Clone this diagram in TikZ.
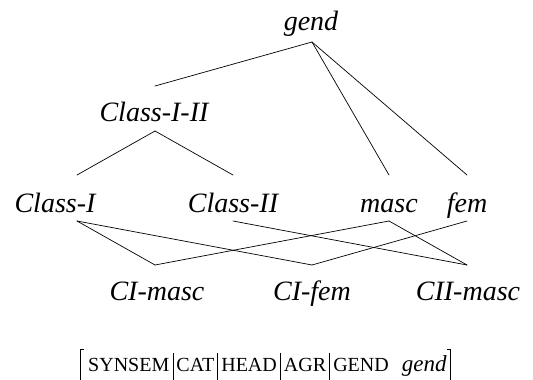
\documentclass[tikz,border=0pt]{standalone}
\usepackage{fontspec}
\setmainfont{Liberation Serif}
\usetikzlibrary{calc}
\newcommand{\avmbar}{\hspace{3.2pt}\rule[-10pt]{0.7pt}{28pt}\hspace{3.2pt}}
\begin{document}
\begin{tikzpicture}[x=1pt,y=-1pt,
  lbl/.style={anchor=base,inner sep=0pt,font=\fontsize{28}{30}\selectfont\itshape},
  edge/.style={line width=0.7pt,line cap=round,line join=round},
  avmstyle/.style={anchor=base west,inner sep=0pt,font=\fontsize{20}{24}\selectfont}]
\useasboundingbox (0,0) rectangle (533,380);
% labels
\node[lbl] (gend) at (311,30) {gend};
\node[lbl] (c12) at (154,121) {Class-I-II};
\node[lbl] (ci) at (55,212) {Class-I};
\node[lbl] (cii) at (233,212) {Class-II};
\node[lbl] (masc) at (389,212) {masc};
\node[lbl] (fem) at (467,212) {fem};
\node[lbl] (cim) at (157,300) {CI-masc};
\node[lbl] (cif) at (312,300) {CI-fem};
\node[lbl] (ciim) at (468,300) {CII-masc};
% attach points
\coordinate (gend-b) at (312,42);
\coordinate (c12-t) at (155,86);
\coordinate (c12-b) at (155,131);
\coordinate (ci-t) at (77,175);
\coordinate (ci-b) at (77,221);
\coordinate (cii-t) at (233,175);
\coordinate (cii-b) at (233,221);
\coordinate (masc-t) at (389,175);
\coordinate (masc-b) at (389,221);
\coordinate (fem-t) at (467,175);
\coordinate (fem-b) at (467,221);
\coordinate (cim-t) at (155,265);
\coordinate (cif-t) at (312,265);
\coordinate (ciim-t) at (467,265);
% connectors
\draw[edge] (gend-b) -- (c12-t);
\draw[edge] (gend-b) -- (masc-t);
\draw[edge] (gend-b) -- (fem-t);
\draw[edge] (c12-b) -- (ci-t);
\draw[edge] (c12-b) -- (cii-t);
\draw[edge] (ci-b) -- (cim-t);
\draw[edge] (ci-b) -- (cif-t);
\draw[edge] (cii-b) -- (ciim-t);
\draw[edge] (masc-b) -- (cim-t);
\draw[edge] (masc-b) -- (ciim-t);
\draw[edge] (fem-b) -- (cif-t);
% AVM
\node[avmstyle] (avm) at (88,371) {SYNSEM\avmbar CAT\avmbar HEAD\avmbar AGR\avmbar GEND\hspace{13pt}{\fontsize{23}{24}\selectfont\itshape gend}};
\draw[line width=0.7pt] (avm.base west) ++(-4,-22) -- ++(-4,0) -- ++(0,44);
\draw[line width=0.7pt] (avm.base east) ++(0,-22) -- ++(4,0) -- ++(0,44);
\end{tikzpicture}
\end{document}
